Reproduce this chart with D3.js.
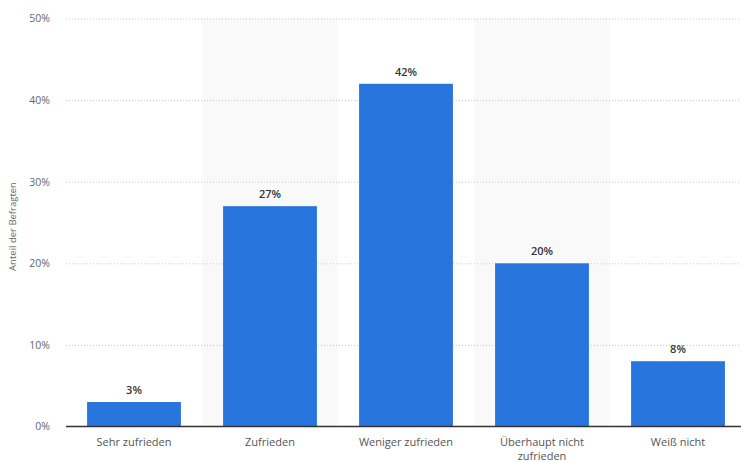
<!DOCTYPE html>
<html>
<head>
<meta charset="utf-8">
<script src="https://cdn.jsdelivr.net/npm/d3@7"></script>
<style>
  body { margin: 0; background: #fff; }
  svg { display: block; font-family: "Open Sans", "DejaVu Sans", sans-serif; }
</style>
</head>
<body>
<script>
// data
const categories = ["Sehr zufrieden", "Zufrieden", "Weniger zufrieden", "Überhaupt nicht zufrieden", "Weiß nicht"];
const categoryLines = [["Sehr zufrieden"], ["Zufrieden"], ["Weniger zufrieden"], ["Überhaupt nicht", "zufrieden"], ["Weiß nicht"]];
const values = [3, 27, 42, 20, 8];
const yTicks = [0, 10, 20, 30, 40, 50];
const yLabel = "Anteil der Befragten";

const width = 741, height = 462;
const marginLeft = 66, marginTop = 18.5, marginBottom = 35.5;

const svg = d3.select("body").append("svg")
    .attr("width", width)
    .attr("height", height)
    .attr("viewBox", [0, 0, width, height]);

const x = d3.scaleBand()
    .domain(categories)
    .range([marginLeft, 746])
    .paddingInner(0.31)
    .paddingOuter(0.155);

const y = d3.scaleLinear()
    .domain([0, 50])
    .range([height - marginBottom, marginTop]);

// alternating band shading
svg.append("g")
    .selectAll("rect")
    .data(categories.filter((d, i) => i % 2 === 1))
    .join("rect")
    .attr("x", d => x(d) - x.step() * x.paddingInner() / 2)
    .attr("y", y(50))
    .attr("width", x.step())
    .attr("height", y(0) - y(50))
    .attr("fill", "#f9f9f9");

// grid + y labels
const yAxis = d3.axisLeft(y).tickValues(yTicks).tickFormat(d => d + "%").tickSize(0).tickPadding(0);
svg.append("g")
    .attr("transform", `translate(${marginLeft},0)`)
    .call(yAxis)
    .call(g => g.select(".domain").remove())
    .call(g => g.selectAll(".tick text")
        .attr("x", -16)
        .attr("fill", "#666")
        .style("font-size", "10.5px")
        .style("font-family", "'Open Sans', sans-serif"))
    .call(g => g.selectAll(".tick line")
        .filter(d => d !== 0)
        .attr("x2", width - marginLeft)
        .attr("stroke", "#c8c8c8")
        .attr("stroke-dasharray", "1,2"));

svg.append("text")
    .attr("transform", `translate(16,${(y(0) + y(50)) / 2 + 4}) rotate(-90)`)
    .attr("text-anchor", "middle")
    .attr("fill", "#666")
    .style("font-size", "9.5px")
    .text(yLabel);

// bars
svg.append("g")
    .attr("fill", "#2875dd")
    .selectAll("rect")
    .data(values)
    .join("rect")
    .attr("x", (d, i) => x(categories[i]))
    .attr("y", d => y(d))
    .attr("width", x.bandwidth())
    .attr("height", d => y(0) - y(d));

// value labels
svg.append("g")
    .selectAll("text")
    .data(values)
    .join("text")
    .attr("x", (d, i) => x(categories[i]) + x.bandwidth() / 2)
    .attr("y", d => y(d) - 8)
    .attr("text-anchor", "middle")
    .attr("fill", "#333")
    .style("font-size", "11px")
    .style("font-weight", "600")
    .text(d => d + "%");

// x axis
const xAxis = d3.axisBottom(x).tickSize(0).tickFormat("");
svg.append("g")
    .attr("transform", `translate(0,${y(0)})`)
    .call(xAxis)
    .call(g => g.select(".domain")
        .attr("d", `M${marginLeft},0H${width}`)
        .attr("stroke", "#333")
        .attr("stroke-width", 1.5));

svg.append("g")
    .selectAll("text")
    .data(categories)
    .join("text")
    .attr("x", d => x(d) + x.bandwidth() / 2)
    .attr("y", y(0) + 19)
    .attr("text-anchor", "middle")
    .attr("fill", "#555")
    .style("font-size", "11px")
    .selectAll("tspan")
    .data((d, i) => categoryLines[i])
    .join("tspan")
    .attr("x", function() { return this.parentNode.getAttribute("x"); })
    .attr("dy", (d, i) => i === 0 ? 0 : 14)
    .text(d => d);
</script>
</body>
</html>
